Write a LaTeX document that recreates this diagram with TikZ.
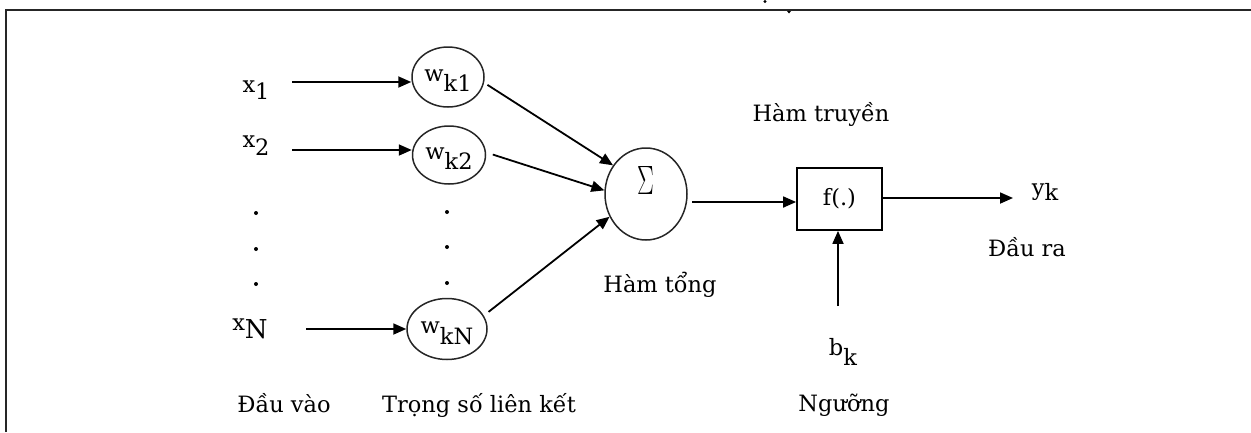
\documentclass[tikz,border=0pt]{standalone}
\usepackage{fontspec}
\newfontfamily\dv{DejaVu Serif}
\usepackage{graphicx}
\usetikzlibrary{arrows.meta,shapes.geometric}
\newcommand\lbl[3]{#1\raisebox{-#3}{#2}}
\begin{document}
\begin{tikzpicture}[x=1pt,y=-1pt,
  every node/.style={font=\dv\fontsize{22.5}{26}\selectfont, inner sep=0pt},
  arr/.style={line width=1.8pt, -{Triangle[length=13pt,width=11pt]}},
  wnode/.style={draw, ellipse, line width=1.5pt, draw=black!85},
  lab/.style={anchor=base}]
\useasboundingbox (0,0) rectangle (1251,432);
% frame
\draw[line width=2pt, draw=black!85] (5.5,432) -- (5.5,9.5) -- (1251,9.5);
\fill (765,1.5) circle (1.6);
\fill (787,11) -- (791,11) -- (789,13.5) -- cycle;

% inputs
\node[lab] (x1) at (256,92) {\lbl{x}{1}{7pt}};
\node[lab] (x2) at (256,147) {\lbl{x}{2}{8pt}};
\node[lab] (xN) at (250,330) {\lbl{x}{\fontsize{26}{26}\selectfont N}{8pt}};

% weights
\node[wnode, minimum width=72pt, minimum height=60pt] (wk1) at (448,77)
  {\raisebox{-4pt}[0pt][0pt]{w\raisebox{-10pt}{k1}}};
\node[wnode, minimum width=73pt, minimum height=58pt] (wk2) at (449,155)
  {\raisebox{-4pt}[0pt][0pt]{w\raisebox{-10pt}{k2}}};
\node[wnode, minimum width=80pt, minimum height=61pt] (wkN) at (447,329)
  {\raisebox{-4pt}[0pt][0pt]{w\raisebox{-11pt}{kN}}};

% input arrows
\coordinate (a1) at (292,82);
\coordinate (a2) at (292,150);
\coordinate (aN) at (306,329);
\draw[arr] (a1) -- (a1 -| wk1.west);
\draw[arr] (a2) -- (a2 -| wk2.west);
\draw[arr] (aN) -- (aN -| wkN.west);

% dots
\foreach \y in {213,249,284} \fill (256,\y) circle (2);
\foreach \y in {212,247,283} \fill (447,\y) circle (2);

% summation
\node[wnode, minimum width=82pt, minimum height=92pt] (sum) at (646,194)
  {\raisebox{0pt}[0pt][0pt]{\scalebox{0.61}[1]{\normalfont\fontsize{41}{41}\selectfont Σ}}};
\draw[arr, shorten <=4pt] (wk1.-9) -- (sum.139);
\draw[arr, shorten <=7pt] (wk2.4) -- (sum.175);
\draw[arr, shorten <=6pt] (wkN.20) -- (sum.212);

% transfer function
\node[draw, line width=1.8pt, minimum width=85pt, minimum height=62pt] (f) at (839.5,199) {f(.)};
\coordinate (s1) at (692,202);
\draw[arr] (s1) -- (s1 -| f.west);
\coordinate (out) at (1013,198);
\draw[arr] (f.east |- out) -- (out);
\coordinate (bin) at (838,306);
\draw[arr] (bin) -- (bin |- f.south);

% labels
\node[lab] (ht) at (821,121) {Hàm truyền};
\node[lab] (hs) at (660,292) {Hàm tổng};
\node[lab] (dv) at (284,412) {Đầu vào};
\node[lab] (ts) at (479,412) {Trọng số liên kết};
\node[lab] (bk) at (843,355) {\lbl{b}{k}{10pt}};
\node[lab] (ng) at (844,411) {Ngưỡng};
\node[lab] (dr) at (1027,256) {Đầu ra};
\node[lab] (yk) at (1045,195) {\lbl{y}{k}{5pt}};
\end{tikzpicture}
\end{document}
